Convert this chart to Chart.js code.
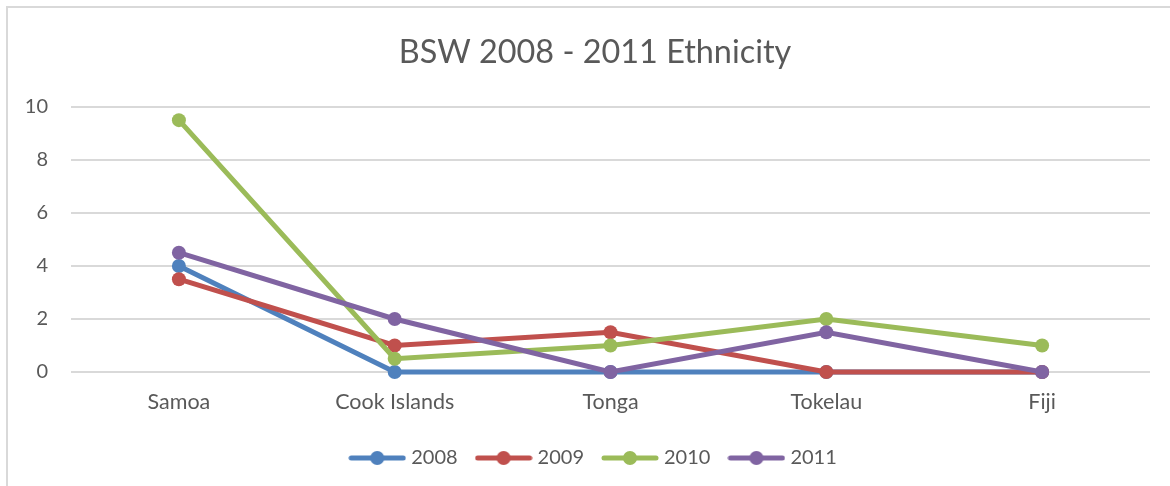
<!DOCTYPE html>
<html>
<head>
<meta charset="utf-8">
<script src="https://cdn.jsdelivr.net/npm/chart.js@4.4.1/dist/chart.umd.min.js"></script>
<style>
  html, body { margin: 0; padding: 0; background: #ffffff; overflow: hidden; }
  #frame {
    position: absolute; left: 6px; top: 6px; width: 1300px; height: 600px;
    border-top: 2px solid #d9d9d9; border-left: 2px solid #d9d9d9;
  }
  #wrap { position: absolute; left: 0; top: 0; width: 1170px; height: 486px; }
</style>
</head>
<body>
<div id="frame"></div>
<div id="wrap"><canvas id="chart" width="1170" height="486"></canvas></div>
<script>
// Ethnicity counts per year
const categories = ['Samoa', 'Cook Islands', 'Tonga', 'Tokelau', 'Fiji'];
const seriesNames = ['2008', '2009', '2010', '2011'];
const values2008 = [4, 0, 0, 0, 0];
const values2009 = [3.5, 1, 1.5, 0, 0];
const values2010 = [9.5, 0.5, 1, 2, 1];
const values2011 = [4.5, 2, 0, 1.5, 0];
const yTickValues = [0, 2, 4, 6, 8, 10];

const colors = ['#4f81bd', '#c0504d', '#9bbb59', '#8064a2'];
const allValues = [values2008, values2009, values2010, values2011];
const FONT = 'Lato, "Open Sans", sans-serif';
const TEXT = '#595959';

// Legend symbol: short line with a dot in the middle
function legendSymbol(color) {
  const c = document.createElement('canvas');
  c.width = 58; c.height = 16;
  const g = c.getContext('2d');
  g.strokeStyle = color; g.lineWidth = 5; g.lineCap = 'round';
  g.beginPath(); g.moveTo(3, 8); g.lineTo(55, 8); g.stroke();
  g.fillStyle = color;
  g.beginPath(); g.arc(29, 8, 7, 0, Math.PI * 2); g.fill();
  return c;
}
const symbols = colors.map(legendSymbol);

// later years are drawn on top of earlier ones
const datasets = seriesNames.map((name, i) => ({
  label: name,
  data: allValues[i],
  borderColor: colors[i],
  backgroundColor: colors[i],
  pointBackgroundColor: colors[i],
  pointBorderColor: colors[i],
  borderWidth: 5,
  pointRadius: 7,
  pointBorderWidth: 0,
  tension: 0,
  clip: false,
  order: seriesNames.length - i
}));

// let the value-axis labels use the space left of the axis box
const widenLabelArea = {
  id: 'widenLabelArea',
  afterLayout(chart) { chart.scales.y.left = 0; }
};

new Chart(document.getElementById('chart'), {
  type: 'line',
  data: { labels: categories, datasets },
  plugins: [widenLabelArea],
  options: {
    responsive: false,
    animation: false,
    layout: { padding: { left: 40, right: 20, top: 0, bottom: 8 } },
    plugins: {
      tooltip: { enabled: false },
      title: {
        display: true,
        text: 'BSW 2008 - 2011 Ethnicity',
        color: TEXT,
        font: { family: FONT, size: 32.4, weight: 'normal' },
        padding: { top: 33, bottom: 35 }
      },
      legend: {
        position: 'bottom',
        labels: {
          usePointStyle: true,
          pointStyleWidth: 48,
          padding: 22,
          color: TEXT,
          font: { family: FONT, size: 20 },
          sort: (a, b) => a.datasetIndex - b.datasetIndex,
          generateLabels: (chart) => {
            const items = Chart.defaults.plugins.legend.labels.generateLabels(chart);
            items.forEach(it => { it.pointStyle = symbols[it.datasetIndex]; });
            return items;
          }
        }
      }
    },
    scales: {
      x: {
        offset: true,
        grid: { display: false, drawTicks: false },
        border: { display: false },
        ticks: { color: TEXT, font: { family: FONT, size: 21.5 }, padding: 17, maxRotation: 0 },
        afterFit: (s) => { s.height = 54; }
      },
      y: {
        min: 0, max: 10,
        afterBuildTicks: (s) => { s.ticks = yTickValues.map(v => ({ value: v })); },
        grid: { color: '#d9d9d9', lineWidth: 2, drawTicks: false },
        border: { display: false },
        ticks: { color: TEXT, font: { family: FONT, size: 20 }, padding: 23 },
        afterFit: (s) => { s.width = 31; }
      }
    }
  }
});
</script>
</body>
</html>
